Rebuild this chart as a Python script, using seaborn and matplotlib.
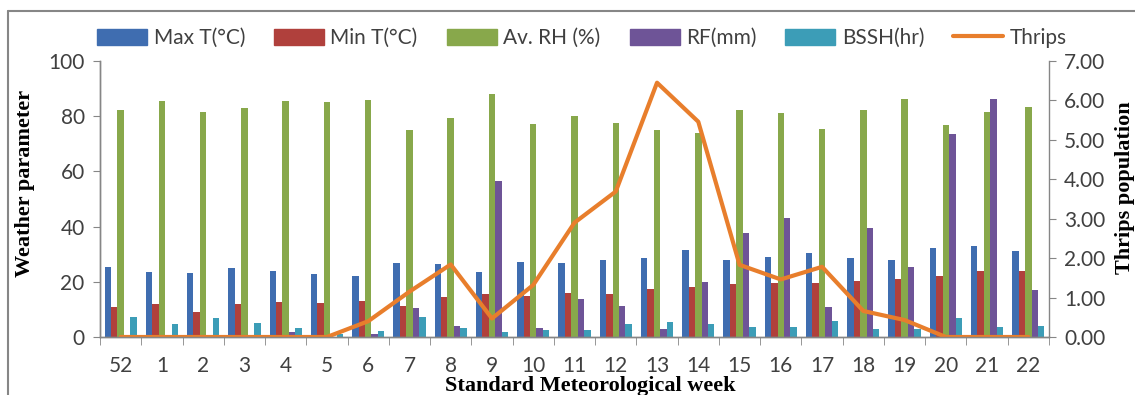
import numpy as np
import pandas as pd
import seaborn as sns
from matplotlib import pyplot as plt, ticker
from matplotlib.lines import Line2D
from matplotlib.patches import Rectangle

weeks = ["52", "1", "2", "3", "4", "5", "6", "7", "8", "9", "10", "11",
         "12", "13", "14", "15", "16", "17", "18", "19", "20", "21", "22"]
max_t = [25.5, 23.4, 23.1, 25.1, 23.9, 22.7, 22.2, 26.7, 26.3, 23.4, 27.1, 26.7,
         27.9, 28.7, 31.5, 27.9, 29.1, 30.3, 28.5, 27.9, 32.1, 33.1, 31.2]
min_t = [11.0, 11.8, 8.9, 11.8, 12.6, 12.2, 13.0, 11.3, 14.6, 15.5, 15.0, 15.8,
         15.5, 17.4, 18.2, 19.1, 19.4, 19.7, 20.3, 21.0, 22.1, 23.9, 23.9]
av_rh = [82.2, 85.5, 81.4, 83.1, 85.5, 85.0, 85.9, 75.0, 79.5, 87.9, 77.0, 80.2,
         77.4, 75.0, 73.8, 82.2, 81.0, 75.4, 82.2, 86.2, 76.8, 81.4, 83.5]
rf = [0.0, 0.0, 0.0, 0.0, 1.9, 0.0, 1.0, 10.6, 4.1, 56.5, 3.1, 13.8,
      11.3, 2.9, 19.8, 37.6, 43.0, 11.0, 39.6, 25.5, 73.4, 86.2, 17.0]
bssh = [7.4, 4.6, 6.8, 5.0, 3.1, 1.0, 2.2, 7.4, 3.4, 1.7, 2.5, 2.5,
        4.6, 5.3, 4.6, 3.7, 3.7, 5.8, 2.8, 2.9, 7.0, 3.7, 4.1]
thrips = [0.0, 0.0, 0.0, 0.0, 0.0, 0.0, 0.4, 1.15, 1.84, 0.47, 1.32, 2.90,
          3.69, 6.45, 5.46, 1.83, 1.46, 1.78, 0.66, 0.43, 0.0, 0.0, 0.0]

params = ["Max T(°C)", "Min T(°C)", "Av. RH (%)", "RF(mm)", "BSSH(hr)"]
colors = ["#3F6DB0", "#B0403C", "#88A84B", "#6E5497", "#3C9DB7"]
line_color = "#E87E2C"
grey = "#868686"
text_grey = "#404040"


def main():
    sns.set_style("white")
    plt.rcParams['font.family'] = ['Lato', 'DejaVu Sans']

    df = pd.DataFrame({"week": weeks, params[0]: max_t, params[1]: min_t,
                       params[2]: av_rh, params[3]: rf, params[4]: bssh})
    long_df = df.melt(id_vars="week", var_name="parameter", value_name="value")

    fig = plt.figure(figsize=(11.35, 3.95), dpi=100)
    ax = fig.add_axes([100 / 1135, 1 - 337 / 395, 949 / 1135, 276 / 395])

    sns.barplot(data=long_df, x="week", y="value", hue="parameter",
                order=weeks, hue_order=params, palette=colors, saturation=1,
                width=0.78, linewidth=0, ax=ax, legend=False)

    ax2 = ax.twinx()
    sns.lineplot(x=np.arange(len(weeks)), y=thrips, color=line_color,
                 linewidth=3, ax=ax2)

    ax.set_xlim(-0.5, len(weeks) - 0.5)
    ax.set_ylim(0, 100)
    ax2.set_ylim(0, 7)
    ax.set_yticks(np.arange(0, 101, 20))
    ax2.set_yticks(np.arange(0, 7.1, 1))
    ax2.yaxis.set_major_formatter(ticker.FuncFormatter(lambda v, p: "%.2f" % v))

    ax.set_xlabel("")
    ax.set_ylabel("")
    ax2.set_ylabel("")

    for a in (ax, ax2):
        for s in a.spines.values():
            s.set_color(grey)
            s.set_linewidth(1.0)
        a.spines['top'].set_visible(False)
    ax.spines['right'].set_visible(False)

    ax.xaxis.set_minor_locator(ticker.FixedLocator(np.arange(-0.5, len(weeks), 1)))
    ax.tick_params(axis='x', which='major', length=0, pad=14, labelsize=15, labelcolor=text_grey)
    ax.tick_params(axis='x', which='minor', length=6, color=grey, direction='out', bottom=True)
    ax.tick_params(axis='y', length=5, color=grey, direction='out', left=True,
                   labelsize=15, labelcolor=text_grey, pad=6)
    ax2.tick_params(axis='y', length=5, color=grey, direction='out', right=True,
                    labelsize=15, labelcolor=text_grey, pad=6)

    serif = ['Liberation Serif', 'DejaVu Serif']
    fig.text(25 / 1135, 1 - 183 / 395, "Weather parameter", rotation=90,
             ha='center', va='center', fontsize=16, fontweight='bold',
             family=serif, color='black')
    fig.text(1125 / 1135, 1 - 188 / 395, "Thrips population", rotation=90,
             ha='center', va='center', fontsize=16, fontweight='bold',
             family=serif, color='black')
    fig.text(590 / 1135, 1 - 386 / 395, "Standard Meteorological week",
             ha='center', va='center', fontsize=16, fontweight='bold',
             family=serif, color='black')

    handles = [Rectangle((0, 0), 1, 1, color=c) for c in colors]
    handles.append(Line2D([0], [0], color=line_color, linewidth=3))
    fig.legend(handles, params + ["Thrips"], loc='center', ncol=6,
               bbox_to_anchor=(582 / 1135, 1 - 38 / 395), frameon=False,
               fontsize=15, handlelength=2.4, handleheight=0.8,
               handletextpad=0.3, columnspacing=1.4, labelcolor=text_grey)

    fig.add_artist(Line2D([8 / 1135, 1.0], [1 - 11 / 395] * 2, color=grey,
                          linewidth=1.5, transform=fig.transFigure))
    fig.add_artist(Line2D([8 / 1135] * 2, [0.0, 1 - 11 / 395], color=grey,
                          linewidth=1.5, transform=fig.transFigure))

    fig.savefig("out.png", dpi=100)


if __name__ == '__main__':
    main()
